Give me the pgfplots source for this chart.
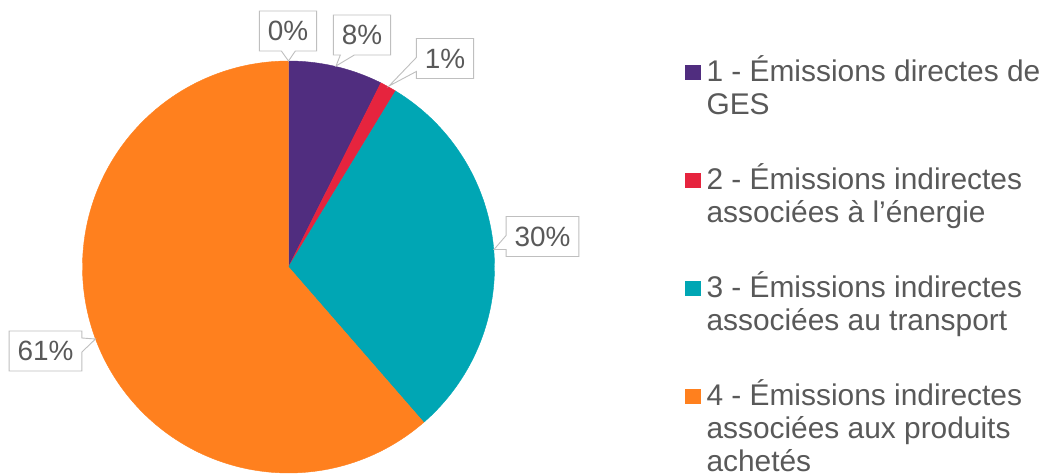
\documentclass[border=0pt]{standalone}
\usepackage{fontspec}
\setmainfont{Liberation Sans}
\usepackage{pgfplots}
\pgfplotsset{compat=1.18}
\usetikzlibrary{shapes.callouts}
\definecolor{cpurp}{RGB}{80,45,127}
\definecolor{cred}{RGB}{230,36,62}
\definecolor{cteal}{RGB}{0,166,180}
\definecolor{corange}{RGB}{255,128,30}
\definecolor{ctext}{RGB}{89,89,89}
\definecolor{cbox}{RGB}{191,191,191}
\newcommand{\cx}{288.5}
\newcommand{\cy}{208}
\newcommand{\pieR}{206}
\newcommand{\twol}[2]{\vtop{\hbox{\strut #1}\hbox{\strut #2}}}
\newcommand{\threel}[3]{\vtop{\hbox{\strut #1}\hbox{\strut #2}\hbox{\strut #3}}}
\begin{document}
\begin{tikzpicture}
% shares (%) in clockwise order from 12 o'clock: 0, 7.4, 1.3, 29.9, 61.4
\pgfmathsetmacro{\tA}{90-3.6*0}
\pgfmathsetmacro{\tB}{\tA-3.6*7.4}
\pgfmathsetmacro{\tC}{\tB-3.6*1.3}
\pgfmathsetmacro{\tD}{\tC-3.6*29.9}
\pgfmathsetmacro{\tE}{\tD-3.6*61.4}
\begin{axis}[
  width=1051bp, height=475bp, scale only axis,
  xmin=0, xmax=1051, ymin=0, ymax=475,
  hide axis, clip=false,
  legend image code/.code={\fill[#1] (0bp,2bp) rectangle (15.5bp,17bp);},
  legend style={at={(axis cs:685,419)}, anchor=north west, draw=none, fill=none,
    inner sep=0pt, outer sep=0pt, column sep=6bp, row sep=80.5bp,
    font=\fontsize{30}{33}\selectfont, text=ctext,
    cells={anchor=base west}, nodes={inner sep=0pt}},
  every node/.append style={text=ctext},
]
\addplot[fill=cpurp, draw=cpurp, line width=0.4bp, forget plot, domain=\tB:\tA, samples=40, variable=\t]
  ({\cx+\pieR*cos(\t)},{\cy+\pieR*sin(\t)}) -- (axis cs:\cx,\cy) -- cycle;
\addplot[fill=cred, draw=cred, line width=0.4bp, forget plot, domain=\tC:\tB, samples=10, variable=\t]
  ({\cx+\pieR*cos(\t)},{\cy+\pieR*sin(\t)}) -- (axis cs:\cx,\cy) -- cycle;
\addplot[fill=cteal, draw=cteal, line width=0.4bp, forget plot, domain=\tD:\tC, samples=80, variable=\t]
  ({\cx+\pieR*cos(\t)},{\cy+\pieR*sin(\t)}) -- (axis cs:\cx,\cy) -- cycle;
\addplot[fill=corange, draw=corange, line width=0.4bp, forget plot, domain=\tE:\tD, samples=150, variable=\t]
  ({\cx+\pieR*cos(\t)},{\cy+\pieR*sin(\t)}) -- (axis cs:\cx,\cy) -- cycle;

\addlegendimage{fill=cpurp, draw=none}
\addlegendentry{\twol{1 - Émissions directes de}{GES}}
\addlegendimage{fill=cred, draw=none}
\addlegendentry{\twol{2 - Émissions indirectes}{associées à l’énergie}}
\addlegendimage{fill=cteal, draw=none}
\addlegendentry{\twol{3 - Émissions indirectes}{associées au transport}}
\addlegendimage{fill=corange, draw=none}
\addlegendentry{\threel{4 - Émissions indirectes}{associées aux produits}{achetés}}

\tikzset{lbl/.style={rectangle callout, draw=cbox, fill=white, line width=0.9bp,
  font=\fontsize{28}{32}\selectfont, text=ctext, inner xsep=8.5bp, inner ysep=0bp,
  minimum height=40bp, callout pointer width=14bp}}
\node[lbl, callout absolute pointer={(axis cs:288.5,414)}] at (axis cs:288,444) {0\%};
\node[lbl, callout absolute pointer={(axis cs:336,409)}] at (axis cs:362,440) {8\%};
\node[lbl, callout absolute pointer={(axis cs:389,389)}] at (axis cs:445,416.5) {1\%};
\node[lbl, callout absolute pointer={(axis cs:494,225.5)}] at (axis cs:542.5,238.5) {30\%};
\node[lbl, callout absolute pointer={(axis cs:95.5,136)}] at (axis cs:45.5,124) {61\%};
\end{axis}
\pgfresetboundingbox
\path[use as bounding box] (current axis.south west) rectangle (current axis.north east);
\end{tikzpicture}
\end{document}
